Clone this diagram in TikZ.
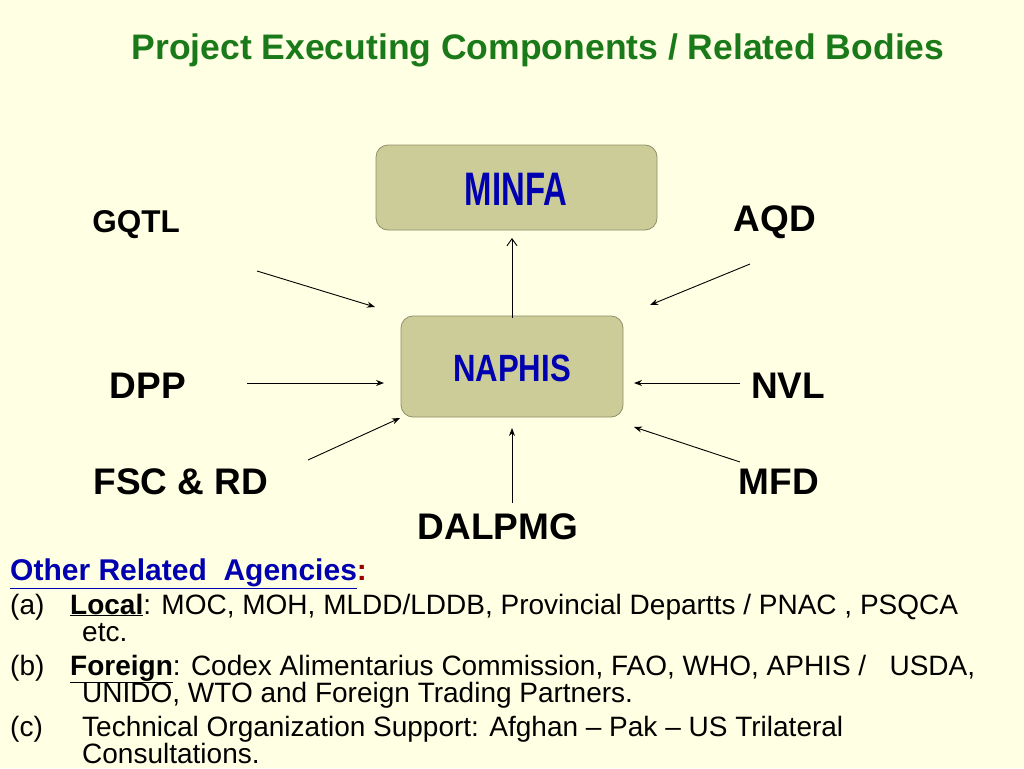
\documentclass[tikz,border=0pt]{standalone}
\usepackage{fontspec}
\setmainfont{Liberation Sans}
\usetikzlibrary{arrows.meta}
\definecolor{bg}{HTML}{FFFFE3}
\definecolor{boxfill}{HTML}{CCCC99}
\definecolor{boxline}{HTML}{8F8F6A}
\definecolor{ttl}{HTML}{1A7A1A}
\definecolor{dblue}{HTML}{0000B0}
\begin{document}
\begin{tikzpicture}[x=1pt,y=-1pt,
  lbl/.style={font=\fontsize{37}{40}\selectfont\bfseries,anchor=center},
  conn/.style={-{Stealth[length=8pt,width=6pt]},line width=0.9pt},
  bx/.style={draw=boxline,fill=boxfill,rounded corners=12pt,line width=0.8pt},
  txt/.style={font=\fontsize{28}{28}\selectfont,anchor=base west,inner sep=0pt}]
\fill[bg] (0,0) rectangle (1024,768);
\useasboundingbox (0,0) rectangle (1024,768);
\node[font=\fontsize{35.5}{38}\selectfont\bfseries,text=ttl] (title) at (538,50) {Project Executing Components / Related Bodies};
\node[bx,minimum width=281pt,minimum height=85pt] (minfa) at (516.5,187.5) {};
\node[font=\fontsize{47}{50}\selectfont\bfseries,text=dblue,xscale=0.7] at (516,189) {MINFA};
\node[bx,minimum width=222pt,minimum height=101pt] (naphis) at (512,366.5) {};
\node[font=\fontsize{38}{42}\selectfont\bfseries,text=dblue,xscale=0.82] at (512,368) {NAPHIS};
\node[lbl,font=\fontsize{31.5}{34}\selectfont\bfseries] (gqtl) at (136,225) {GQTL};
\node[lbl] (aqd) at (775,222) {AQD};
\node[lbl] (dpp) at (148,386) {DPP};
\node[lbl] (nvl) at (788,386) {NVL};
\node[lbl] (fsc) at (181,482) {FSC \& RD};
\node[lbl] (mfd) at (779,482) {MFD};
\node[lbl] (dal) at (498,527) {DALPMG};
\coordinate (g1) at (257,271); \coordinate (g2) at (375,307);
\coordinate (a1) at (750,264); \coordinate (a2) at (650,305);
\coordinate (d1) at (247,383); \coordinate (d2) at (384,383);
\coordinate (n1) at (740,383); \coordinate (n2) at (634,383);
\coordinate (f1) at (308,460); \coordinate (f2) at (400,418);
\coordinate (m1) at (740,462); \coordinate (m2) at (634,427);
\coordinate (l1) at (512,503); \coordinate (l2) at (512,428);
\coordinate (u1) at (512,318); \coordinate (u2) at (512,238);
\draw[conn] (g1) -- (g2);
\draw[conn] (a1) -- (a2);
\draw[conn] (d1) -- (d2);
\draw[conn] (n1) -- (n2);
\draw[conn] (f1) -- (f2);
\draw[conn] (m1) -- (m2);
\draw[conn] (l1) -- (l2);
\draw[-{Straight Barb[length=7pt,width=10pt]},line width=0.9pt] (u1) -- (u2);
\node[txt,font=\fontsize{30}{30}\selectfont\bfseries,text=dblue] (ora) at (10,580) {\underline{Other Related\ \ Agencies}\textcolor{red!60!black}{:}};
\node[txt] (la) at (10,614) {(a)};
\node[txt] (ta) at (70,614) {\textbf{\underline{Local}}: MOC, MOH, MLDD/LDDB, Provincial Departts / PNAC , PSQCA};
\node[txt] (ta2) at (82,641) {etc.};
\node[txt] (lb) at (10,675) {(b)};
\node[txt] (tb) at (70,675) {\textbf{\underline{Foreign}}: Codex Alimentarius Commission, FAO, WHO, APHIS /\ \ \ USDA,};
\node[txt] (tb2) at (82,702) {UNIDO, WTO and Foreign Trading Partners.};
\node[txt] (lc) at (10,736) {(c)};
\node[txt] (tc) at (82,736) {Technical Organization Support: Afghan -- Pak -- US Trilateral};
\node[txt] (tc2) at (82,763) {Consultations.};
\end{tikzpicture}
\end{document}
